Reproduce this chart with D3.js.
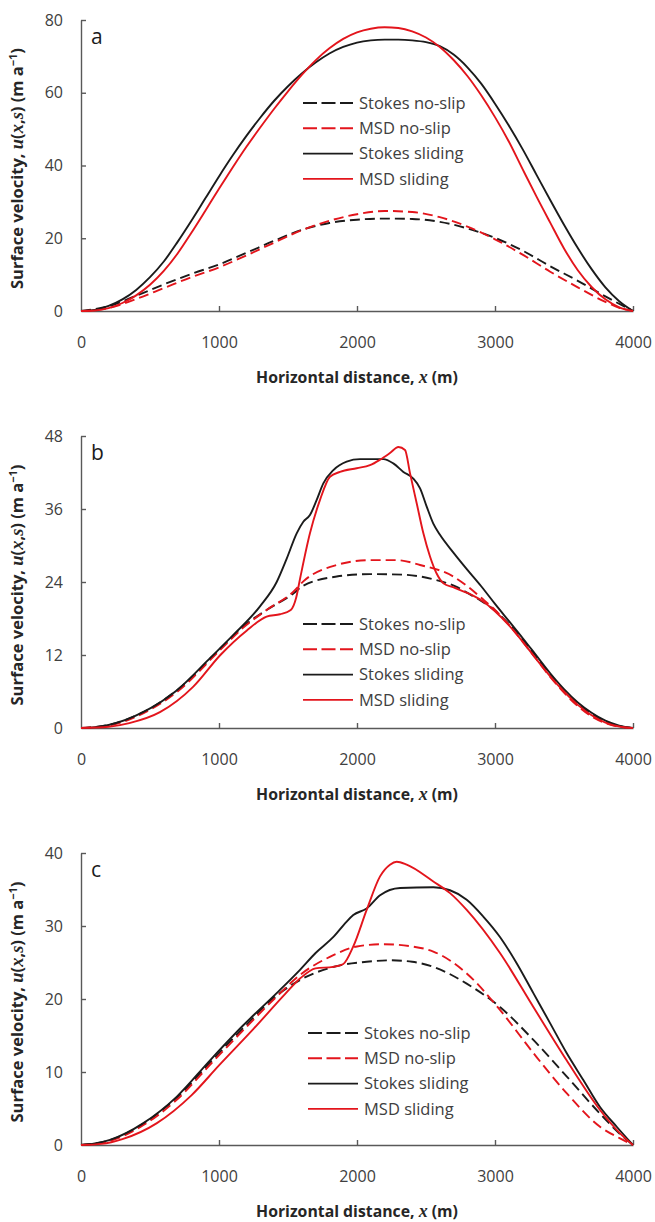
<!DOCTYPE html>
<html>
<head>
<meta charset="utf-8">
<script src="https://cdn.jsdelivr.net/npm/d3@7"></script>
<style>
  body { margin: 0; background: #fff; }
  svg { display: block; }
</style>
</head>
<body>
<div class="svg-container"></div>
<script>
// values: [x (m), u (m/a)]
const seriesNames = ['Stokes no-slip', 'MSD no-slip', 'Stokes sliding', 'MSD sliding'];
const xTicks = [0, 1000, 2000, 3000, 4000];

const aYTicks = [0, 20, 40, 60, 80];
const aStokesNoSlip = [[0,0],[200,1.3],[400,4.2],[600,7.3],[800,10.2],[1000,12.8],[1200,16],[1400,19.3],[1600,22.3],[1800,24.2],[2000,25.1],[2200,25.4],[2400,25.3],[2600,24.5],[2800,22.7],[3000,20.1],[3200,16.6],[3400,12.3],[3600,8.3],[3800,4],[4000,0]];
const aMsdNoSlip = [[0,0],[200,0.8],[400,3.3],[600,6.3],[800,9.3],[1000,12],[1200,15.3],[1400,18.8],[1600,22.2],[1800,24.8],[2000,26.6],[2200,27.5],[2400,27.2],[2600,25.8],[2800,23.2],[3000,19.7],[3200,15.5],[3400,10.8],[3600,6.5],[3800,2.5],[3900,0.9],[4000,0]];
const aStokesSliding = [[0,0],[100,0.3],[200,1.4],[300,3.2],[400,5.8],[500,9.3],[600,13.6],[700,19],[800,24.8],[900,30.9],[1000,37],[1100,42.8],[1200,48.2],[1300,53.2],[1400,57.8],[1500,61.8],[1600,65.3],[1700,68.3],[1800,70.8],[1900,72.6],[2000,73.8],[2100,74.4],[2200,74.6],[2300,74.6],[2400,74.4],[2500,73.9],[2600,72.8],[2700,70.5],[2800,67],[2900,62.5],[3000,57],[3100,51],[3200,44.5],[3300,37.5],[3400,30.5],[3500,23.7],[3600,17.3],[3700,11.5],[3800,6.5],[3900,2.7],[4000,0]];
const aMsdSliding = [[0,0],[100,0.15],[200,0.8],[300,2.2],[400,4.3],[500,7.2],[600,11],[700,15.8],[800,21.5],[900,27.5],[1000,33.6],[1100,39.5],[1200,45.2],[1300,50.5],[1400,55.6],[1500,60.4],[1600,64.9],[1700,68.9],[1800,72.2],[1900,74.8],[2000,76.6],[2100,77.6],[2200,78],[2300,77.8],[2400,76.9],[2500,75.2],[2600,72.6],[2700,69],[2800,64.6],[2900,59.3],[3000,53.3],[3100,46.6],[3200,39],[3300,31.5],[3400,24.3],[3500,17.2],[3600,11.2],[3700,6.6],[3800,3.2],[3900,1],[4000,0]];

const bYTicks = [0, 12, 24, 36, 48];
const bStokesNoSlip = [[0,0],[200,0.5],[450,2.6],[700,6.3],[1007,13],[1176,16.7],[1345,19.4],[1539,22.1],[1611,23.4],[1853,24.9],[2094,25.3],[2336,25.2],[2577,24.3],[2722,23.2],[2800,22.2],[2900,20.9],[3000,19.3],[3100,17.1],[3200,14.5],[3300,11.6],[3400,8.8],[3500,6.2],[3600,4],[3700,2.3],[3800,1.1],[3900,0.3],[4000,0]];
const bMsdNoSlip = [[0,0],[200,0.4],[450,2.4],[700,6],[1007,12.8],[1176,16.5],[1345,19.4],[1539,22.4],[1611,24.1],[1853,26.8],[2094,27.6],[2287,27.6],[2457,26.8],[2698,24.9],[2800,23.3],[2900,21.4],[3000,19.4],[3100,17],[3200,14.2],[3300,11.3],[3400,8.4],[3500,5.8],[3600,3.6],[3700,1.9],[3800,0.8],[3900,0.2],[4000,0]];
const bStokesSliding = [[0,0],[100,0.15],[200,0.5],[450,2.6],[700,6.3],[940,11.6],[1104,15.3],[1297,20],[1418,24],[1490,27.8],[1563,32],[1611,33.9],[1659,35],[1708,37.5],[1756,40.2],[1829,42.4],[1925,43.8],[2022,44.2],[2191,44.2],[2263,43.5],[2336,42.1],[2408,41],[2457,39.4],[2505,36.4],[2553,33.6],[2600,31.8],[2700,28.8],[2800,26],[2900,23.3],[3000,20.4],[3100,17.6],[3200,14.8],[3300,11.9],[3400,9],[3500,6.4],[3600,4.2],[3700,2.5],[3800,1.2],[3900,0.4],[4000,0]];
const bMsdSliding = [[0,0],[200,0.2],[350,0.8],[572,2.6],[814,6.8],[1010,12],[1200,16],[1345,18.3],[1442,18.7],[1520,19.4],[1560,21.5],[1587,24.5],[1659,32],[1732,37.5],[1804,41.3],[1877,42.1],[1998,42.7],[2094,43.2],[2167,44.1],[2239,45.2],[2300,46.2],[2348,45.7],[2384,41.9],[2433,36.9],[2481,32],[2529,28.2],[2577,25.4],[2626,23.8],[2700,23.1],[2800,22.2],[2900,21],[3000,19.2],[3100,16.9],[3200,14.2],[3300,11.3],[3400,8.5],[3500,6],[3600,3.8],[3700,2.1],[3800,0.9],[3900,0.25],[4000,0]];

const cYTicks = [0, 10, 20, 30, 40];
const cStokesNoSlip = [[0,0],[200,0.6],[450,2.9],[700,6.6],[950,11.6],[1200,16.5],[1400,20.2],[1587,22.6],[1829,24.4],[2070,25.1],[2239,25.3],[2400,25.1],[2553,24.4],[2795,22.1],[3036,18.9],[3278,14.4],[3519,9.4],[3761,4.3],[3906,1.5],[4000,0]];
const cMsdNoSlip = [[0,0],[200,0.5],[450,2.7],[700,6.3],[950,11.3],[1200,16.2],[1400,20],[1587,23.3],[1829,26],[2000,27.2],[2191,27.5],[2400,27.2],[2553,26.5],[2795,23.5],[3036,18.5],[3278,12.6],[3519,7.1],[3761,2.5],[3906,0.9],[4000,0]];
const cStokesSliding = [[0,0],[100,0.2],[210,0.7],[452,3],[693,6.6],[935,11.6],[1176,16.4],[1418,20.8],[1587,24],[1700,26.3],[1829,28.5],[1920,30.5],[1973,31.5],[2070,32.4],[2167,34.2],[2312,35.2],[2553,35.3],[2674,34.9],[2795,33.6],[2915,31.3],[3036,28.5],[3157,24.9],[3278,20.8],[3399,16.7],[3519,12.6],[3640,8.9],[3761,5.2],[3882,2.5],[4000,0]];
const cMsdSliding = [[0,0],[150,0.15],[300,0.8],[550,3],[800,6.8],[1000,10.9],[1250,15.9],[1480,20.7],[1587,22.8],[1700,24.2],[1826,24.4],[1901,24.8],[1973,27.2],[2070,32.2],[2167,36.8],[2239,38.4],[2288,38.8],[2360,38.4],[2553,36.1],[2674,34.5],[2795,32.2],[3036,26.3],[3278,18.9],[3519,11.6],[3761,4.8],[3906,1.6],[4000,0]];

// page layout
const width = 655;
const height = 1222;
const xLeft = 81;
const xRight = 633;

const panels = [
  { letter: 'a', top: 20, bottom: 311, yTicks: aYTicks, series: [aStokesNoSlip, aMsdNoSlip, aStokesSliding, aMsdSliding], legend: { x: 303, y: 103 } },
  { letter: 'b', top: 436, bottom: 728, yTicks: bYTicks, series: [bStokesNoSlip, bMsdNoSlip, bStokesSliding, bMsdSliding], legend: { x: 303, y: 624 } },
  { letter: 'c', top: 853, bottom: 1145, yTicks: cYTicks, series: [cStokesNoSlip, cMsdNoSlip, cStokesSliding, cMsdSliding], legend: { x: 308, y: 1033 } }
];

const styles = [
  { color: '#1b1b1b', dash: '10,5', legendDash: '14,4.5' },
  { color: '#e3151c', dash: '10,5', legendDash: '14,4.5' },
  { color: '#1b1b1b', dash: null, legendDash: null },
  { color: '#e3151c', dash: null, legendDash: null }
];

const axisColor = '#595959';
const textColor = '#404040';
const font = "'Open Sans', 'Noto Sans', sans-serif";
const serif = "'Liberation Serif', 'DejaVu Serif', serif";

const svg = d3.select('.svg-container')
  .append('svg')
  .attr('width', width)
  .attr('height', height);

const renderPanel = p => {
  const x = d3.scaleLinear().domain([0, 4000]).range([xLeft, xRight]);
  const y = d3.scaleLinear().domain([0, d3.max(p.yTicks)]).range([p.bottom, p.top]);
  const g = svg.append('g');

  // x axis, ticks point up into the plot
  const xAxis = g.append('g')
    .attr('transform', `translate(0,${p.bottom})`)
    .call(d3.axisBottom(x).tickValues(xTicks).tickFormat(d3.format('d'))
      .tickSizeInner(-5).tickSizeOuter(0).tickPadding(26));

  // y axis, ticks point right
  const yAxis = g.append('g')
    .attr('transform', `translate(${xLeft},0)`)
    .call(d3.axisLeft(y).tickValues(p.yTicks).tickFormat(d3.format('d'))
      .tickSizeInner(-5).tickSizeOuter(0).tickPadding(18));

  [xAxis, yAxis].forEach(a => {
    a.selectAll('.domain, .tick line').attr('stroke', axisColor).attr('stroke-width', 1.4);
    a.selectAll('text').attr('fill', textColor).style('font-family', font).style('font-size', '16px');
  });
  xAxis.selectAll('.tick').filter(d => d === 0).select('line').remove();
  yAxis.selectAll('.tick').filter(d => d === 0).select('line').remove();

  // curves
  const line = d3.line()
    .x(d => x(d[0]))
    .y(d => y(d[1]))
    .curve(d3.curveMonotoneX);

  p.series.forEach((s, i) => {
    g.append('path')
      .datum(s)
      .attr('d', line)
      .attr('fill', 'none')
      .attr('stroke', styles[i].color)
      .attr('stroke-width', 1.9)
      .attr('stroke-dasharray', styles[i].dash);
  });

  // panel letter
  g.append('text')
    .attr('x', 91)
    .attr('y', p.top + 24)
    .style('font-family', font)
    .style('font-size', '21px')
    .attr('fill', '#1b1b1b')
    .text(p.letter);

  // legend
  const leg = g.append('g').attr('transform', `translate(${p.legend.x},${p.legend.y})`);
  seriesNames.forEach((name, i) => {
    const row = leg.append('g').attr('transform', `translate(0,${i * 25.3})`);
    row.append('line')
      .attr('x1', 0).attr('x2', 50)
      .attr('stroke', styles[i].color)
      .attr('stroke-width', 1.9)
      .attr('stroke-dasharray', styles[i].legendDash);
    row.append('text')
      .attr('x', 56)
      .attr('dy', '0.35em')
      .attr('fill', textColor)
      .style('font-family', font)
      .style('font-size', '16.5px')
      .text(name);
  });

  // x axis title
  const xt = g.append('text')
    .attr('x', x(2000))
    .attr('y', p.bottom + 72)
    .attr('text-anchor', 'middle')
    .attr('fill', '#262626')
    .style('font-family', font)
    .style('font-size', '15.8px')
    .style('font-weight', 'bold');
  xt.append('tspan').text('Horizontal distance, ');
  xt.append('tspan').style('font-family', serif).style('font-style', 'italic').style('font-size', '18px').text('x');
  xt.append('tspan').text(' (m)');

  // y axis title
  const yt = g.append('text')
    .attr('transform', `translate(23,${(p.top + p.bottom) / 2 + 3}) rotate(-90)`)
    .attr('text-anchor', 'middle')
    .attr('fill', '#262626')
    .style('font-family', font)
    .style('font-size', '16.5px')
    .style('font-weight', 'bold');
  yt.append('tspan').text('Surface velocity, ');
  yt.append('tspan').style('font-family', serif).style('font-style', 'italic').style('font-size', '18.5px').text('u');
  yt.append('tspan').text('(');
  yt.append('tspan').style('font-family', serif).style('font-style', 'italic').style('font-size', '18.5px').text('x');
  yt.append('tspan').text(',');
  yt.append('tspan').style('font-family', serif).style('font-style', 'italic').style('font-size', '18.5px').text('s');
  yt.append('tspan').text(') (m a');
  yt.append('tspan').attr('dy', -6).style('font-size', '11px').text('\u22121');
  yt.append('tspan').attr('dy', 6).text(')');
};

panels.forEach(renderPanel);
</script>
</body>
</html>
